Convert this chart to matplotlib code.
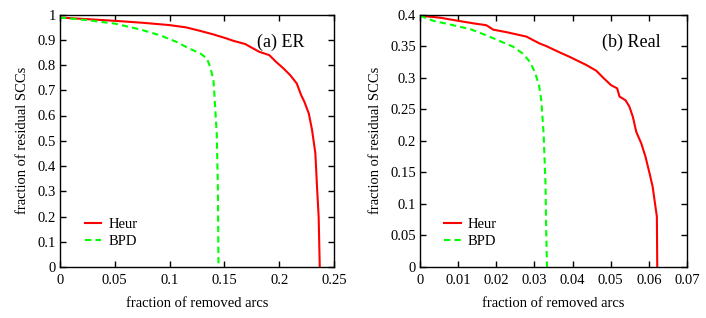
import numpy as np
import matplotlib.pyplot as plt

plt.rcParams['font.family'] = ['Liberation Serif', 'DejaVu Serif']
plt.rcParams['font.size'] = 10.5

# ER network
er_heur_x = [0, 0.05, 0.076, 0.1, 0.115, 0.128, 0.14, 0.152, 0.158, 0.169, 0.176,
             0.182, 0.191, 0.197, 0.204, 0.21, 0.216, 0.22, 0.223, 0.227, 0.23,
             0.233, 0.2345, 0.236, 0.237]
er_heur_y = [0.988, 0.975, 0.967, 0.958, 0.949, 0.935, 0.921, 0.905, 0.896, 0.883, 0.866,
             0.852, 0.839, 0.813, 0.786, 0.76, 0.727, 0.681, 0.654, 0.608, 0.542,
             0.45, 0.318, 0.199, 0]
er_bpd_x = [0, 0.024, 0.05, 0.073, 0.091, 0.106, 0.118, 0.128, 0.134, 0.137, 0.14,
            0.141, 0.143, 0.144, 0.1444, 0.1446]
er_bpd_y = [0.988, 0.978, 0.964, 0.941, 0.918, 0.892, 0.865, 0.846, 0.826, 0.793, 0.74,
            0.674, 0.529, 0.331, 0.133, 0]

# real network
real_heur_x = [0, 0.0052, 0.01, 0.014, 0.0174, 0.0192, 0.0227, 0.0279, 0.0301, 0.0314,
               0.0331, 0.0366, 0.0392, 0.0436, 0.0462, 0.048, 0.0501, 0.0517, 0.0523,
               0.0539, 0.0549, 0.0558, 0.0567, 0.058, 0.0591, 0.0602, 0.061, 0.0616,
               0.0621, 0.0622]
real_heur_y = [0.398, 0.395, 0.39, 0.386, 0.383, 0.376, 0.372, 0.365, 0.358, 0.354,
               0.35, 0.34, 0.333, 0.32, 0.311, 0.3, 0.288, 0.283, 0.27,
               0.264, 0.254, 0.238, 0.214, 0.196, 0.175, 0.148, 0.127, 0.101,
               0.08, 0]
real_bpd_x = [0, 0.0035, 0.0087, 0.0131, 0.0174, 0.0209, 0.0244, 0.027, 0.0288, 0.0301,
              0.0312, 0.0318, 0.0324, 0.0329, 0.0331, 0.0333]
real_bpd_y = [0.398, 0.39, 0.383, 0.377, 0.367, 0.358, 0.349, 0.338, 0.325, 0.309,
              0.288, 0.264, 0.212, 0.132, 0.053, 0]

fig = plt.figure(figsize=(7.06, 3.18), dpi=100)
ax1 = fig.add_axes([60/706, 51/318, 274/706, 252.5/318])
ax2 = fig.add_axes([420/706, 51/318, 267/706, 252.5/318])


def setup(ax, xlim, ylim, xticks, yticks, label, lx):
    ax.set_xlim(*xlim)
    ax.set_ylim(*ylim)
    ax.set_xticks(xticks)
    ax.set_yticks(yticks)
    ax.set_xticklabels([f"{v:g}" for v in xticks])
    ax.set_yticklabels([f"{v:g}" for v in yticks])
    ax.tick_params(direction='in', top=True, right=True, length=4, width=1)
    ax.tick_params(axis='x', pad=5)
    ax.tick_params(axis='y', pad=3)
    for s in ax.spines.values():
        s.set_linewidth(1)
    ax.set_xlabel("fraction of removed arcs", labelpad=7)
    ax.set_ylabel("fraction of residual SCCs", labelpad=6)
    ax.text(lx, 0.89, label, transform=ax.transAxes, ha='right', va='center', fontsize=13)
    ax.legend(loc='lower left', bbox_to_anchor=(0.09, 0.075), frameon=False,
              borderpad=0, borderaxespad=0,
              handlelength=1.15, handletextpad=0.5, labelspacing=0.25, fontsize=10.5)


ax1.plot(er_heur_x, er_heur_y, color='#ff0000', lw=1.5, label='Heur')
ax1.plot(er_bpd_x, er_bpd_y, color='#00ff00', lw=1.5, ls=(0, (3, 2)), label='BPD')
setup(ax1, (0, 0.25), (0, 1), [0, 0.05, 0.1, 0.15, 0.2, 0.25],
      [0, 0.1, 0.2, 0.3, 0.4, 0.5, 0.6, 0.7, 0.8, 0.9, 1], "(a) ER", 0.894)

ax2.plot(real_heur_x, real_heur_y, color='#ff0000', lw=1.5, label='Heur')
ax2.plot(real_bpd_x, real_bpd_y, color='#00ff00', lw=1.5, ls=(0, (3, 2)), label='BPD')
setup(ax2, (0, 0.07), (0, 0.4), [0, 0.01, 0.02, 0.03, 0.04, 0.05, 0.06, 0.07],
      [0, 0.05, 0.1, 0.15, 0.2, 0.25, 0.3, 0.35, 0.4], "(b) Real", 0.903)

fig.savefig("out.png", dpi=100)
